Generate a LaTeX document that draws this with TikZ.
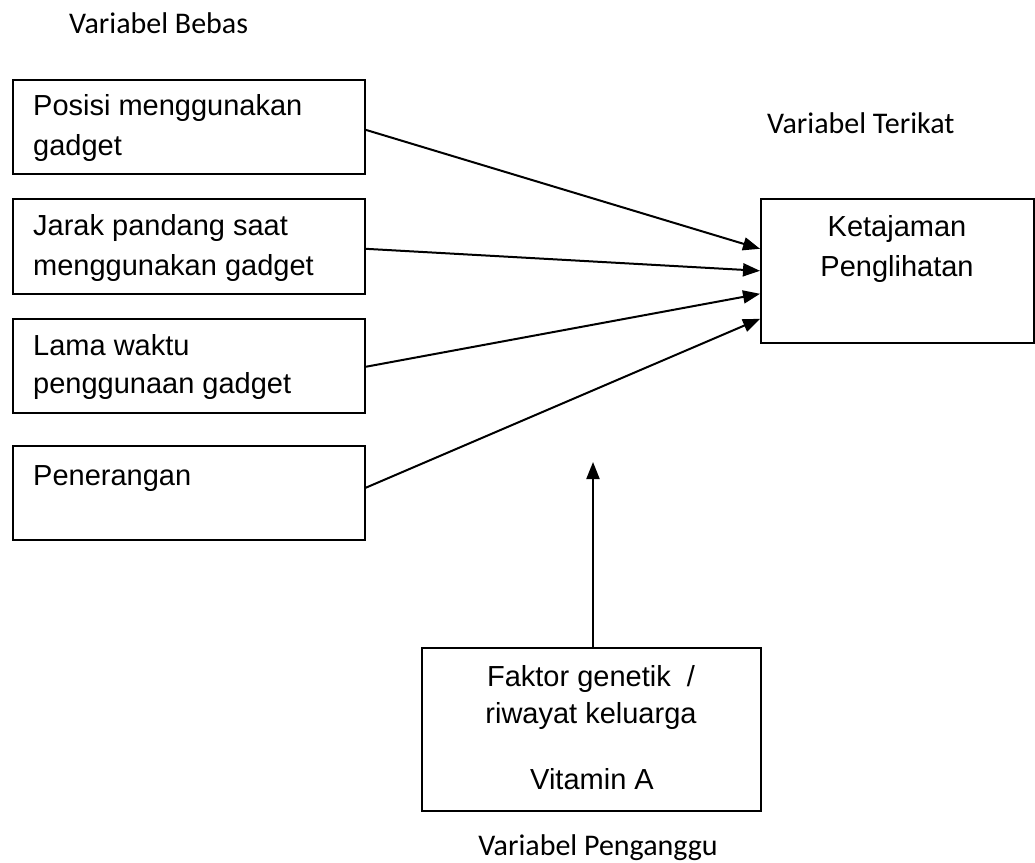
\documentclass[tikz,border=0pt]{standalone}
\usepackage{fontspec}
\setmainfont{Liberation Sans}
\newfontfamily\labelfont{Carlito}
\usetikzlibrary{arrows.meta}
\begin{document}
\begin{tikzpicture}[x=1pt,y=-1pt,
  box/.style={draw,line width=1.6pt,inner sep=0pt,anchor=north west},
  txt/.style={font=\fontsize{29}{40}\selectfont,inner sep=0pt},
  lbl/.style={font=\labelfont\fontsize{30}{34}\selectfont,inner sep=0pt},
  conn/.style={line width=2pt,-{Triangle[length=17pt,width=13pt]}}]
\useasboundingbox (0,0) rectangle (1035,862);
% boxes
\node[box,minimum width=352pt,minimum height=94pt] (b1) at (12,79) {};
\node[box,minimum width=352pt,minimum height=95pt] (b2) at (12,198) {};
\node[box,minimum width=352pt,minimum height=94pt] (b3) at (12,318) {};
\node[box,minimum width=352pt,minimum height=94pt] (b4) at (12,445) {};
\node[box,minimum width=273pt,minimum height=144pt] (t) at (760,198) {};
\node[box,minimum width=339pt,minimum height=163pt] (c) at (421,647) {};
% texts
\node[txt,anchor=base west] (b1a) at (33,115) {Posisi menggunakan};
\node[txt,anchor=base west] (b1b) at (33,155) {gadget};
\node[txt,anchor=base west] (b2a) at (33,235) {Jarak pandang saat};
\node[txt,anchor=base west] (b2b) at (33,275) {menggunakan gadget};
\node[txt,anchor=base west] (b3a) at (33,355) {Lama waktu};
\node[txt,anchor=base west] (b3b) at (33,393) {penggunaan gadget};
\node[txt,anchor=base west] (b4a) at (33,485) {Penerangan};
\node[txt,anchor=base] (ta) at (897,236) {Ketajaman};
\node[txt,anchor=base] (tb) at (897,276) {Penglihatan};
\node[txt,anchor=base] (ca) at (591,686) {Faktor genetik \ /};
\node[txt,anchor=base] (cb) at (591,723) {riwayat keluarga};
\node[txt,anchor=base] (cc) at (592,789) {Vitamin A};
% labels
\node[lbl,anchor=base west] (l1) at (69,33) {Variabel Bebas};
\node[lbl,anchor=base west] (l2) at (767,133) {Variabel Terikat};
\node[lbl,anchor=base] (l3) at (598,855) {Variabel Penganggu};
% connectors
\coordinate (tip) at (593,462);
\draw[conn] ([yshift=-3pt]b1.east) -- ([yshift=22pt]t.west);
\draw[conn] ([yshift=-2.5pt]b2.east) -- (t.west);
\draw[conn] ([yshift=-1pt]b3.east) -- ([yshift=-23pt]t.west);
\draw[conn] ([yshift=5pt]b4.east) -- ([yshift=-48pt]t.west);
\draw[conn] (c.north -| tip) -- (tip);
\end{tikzpicture}
\end{document}
